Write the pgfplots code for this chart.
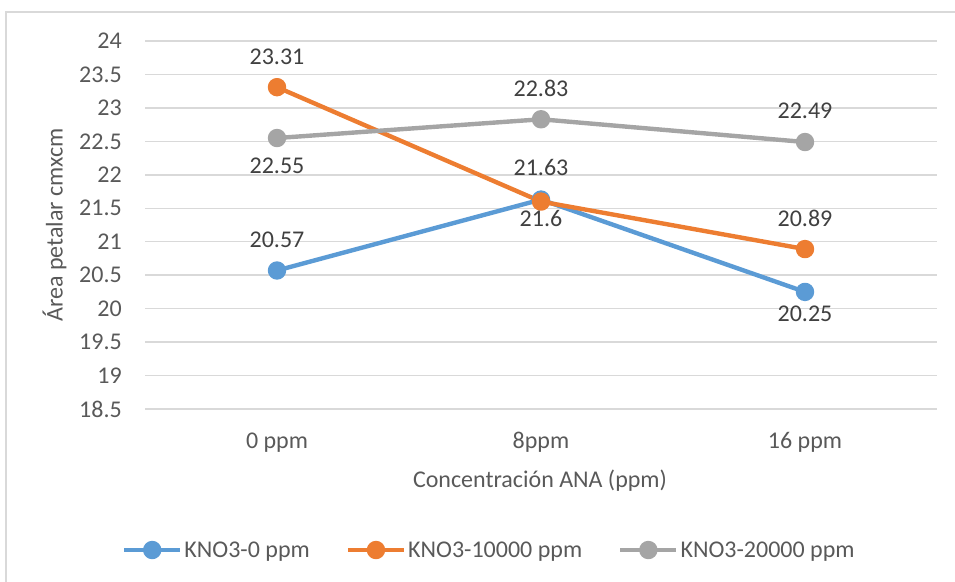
\documentclass[border=0pt]{standalone}
\usepackage{fontspec}
\setmainfont{Carlito}
\usepackage{pgfplots}
\pgfplotsset{compat=1.18}
\definecolor{c1}{HTML}{5B9BD5}
\definecolor{c2}{HTML}{ED7D31}
\definecolor{c3}{HTML}{A5A5A5}
\definecolor{tc}{HTML}{595959}
\definecolor{dc}{HTML}{404040}
\definecolor{gridc}{HTML}{D9D9D9}
\newcommand{\fs}{\fontsize{24}{29}\selectfont}
\begin{document}
\begin{tikzpicture}[x=1pt,y=1pt]
\path[use as bounding box] (0,0) rectangle (955,581);
\draw[gridc, line width=1.5pt] (6,-10) -- (6,569) -- (965,569);
\begin{axis}[
  at={(145pt,172pt)}, anchor=south west,
  width=792pt, height=368pt, scale only axis,
  xmin=-0.5, xmax=2.5, ymin=18.5, ymax=24,
  xtick={0,1,2}, xticklabels={0 ppm, 8ppm, 16 ppm},
  ytick={18.5,19,19.5,20,20.5,21,21.5,22,22.5,23,23.5,24},
  axis line style={draw=none}, major tick length=0pt,
  ymajorgrids, grid style={gridc, line width=1.5pt},
  /pgf/number format/assume math mode=true,
  ticklabel style={font=\fs, text=tc, inner sep=0pt},
  yticklabel style={anchor=east, xshift=-23pt},
  xticklabel style={anchor=base, yshift=-39pt},
  xlabel={Concentración ANA (ppm)},
  ylabel={Área petalar cmxcm},
  label style={font=\fs, text=tc, inner sep=0pt},
  xlabel style={at={(axis description cs:0.4987,-0.212)}, anchor=base},
  ylabel style={at={(axis description cs:-0.104,0.5)}, anchor=base},
  clip=false,
  legend columns=3,
  legend image code/.code={\draw[mark repeat=2,mark phase=2,#1] plot coordinates {(0pt,0pt)(28pt,0pt)(56pt,0pt)};},
  legend style={at={(axis description cs:-0.029,-0.3832)}, anchor=west,
    draw=none, fill=none, inner sep=0pt, outer sep=0pt, font=\fs, text=tc,
    nodes={inner sep=0pt},
    /tikz/every odd column/.append style={column sep=2pt},
    /tikz/every even column/.append style={column sep=36pt}},
]
\addplot[c1, line width=4.4pt, line join=round, mark=*, mark size=7pt, mark options={draw=none, fill=c1}]
  table[x=x, y=y] {
x y
0 20.57
1 21.63
2 20.25
};
\addlegendentry{KNO3-0 ppm}
\addplot[c2, line width=4.4pt, line join=round, mark=*, mark size=7pt, mark options={draw=none, fill=c2}]
  table[x=x, y=y] {
x y
0 23.31
1 21.6
2 20.89
};
\addlegendentry{KNO3-10000 ppm}
\addplot[c3, line width=4.4pt, line join=round, mark=*, mark size=7pt, mark options={draw=none, fill=c3}]
  table[x=x, y=y] {
x y
0 22.55
1 22.83
2 22.49
};
\addlegendentry{KNO3-20000 ppm}
\addplot[draw=none, mark=none, forget plot,
  point meta=explicit symbolic,
  visualization depends on={value \thisrow{dy} \as \dy},
  nodes near coords,
  every node near coord/.append style={anchor=center, inner sep=0pt, yshift=\dy*1pt, text=dc, font=\fs}]
  table[x=x, y=y, meta=lab] {
x y dy lab
0 20.57 31 20.57
1 21.63 32 21.63
2 20.25 -22 20.25
0 23.31 30.5 23.31
1 21.6 -16.5 21.6
2 20.89 31 20.89
0 22.55 -28 22.55
1 22.83 31 22.83
2 22.49 31 22.49
};
\end{axis}
\end{tikzpicture}
\end{document}
